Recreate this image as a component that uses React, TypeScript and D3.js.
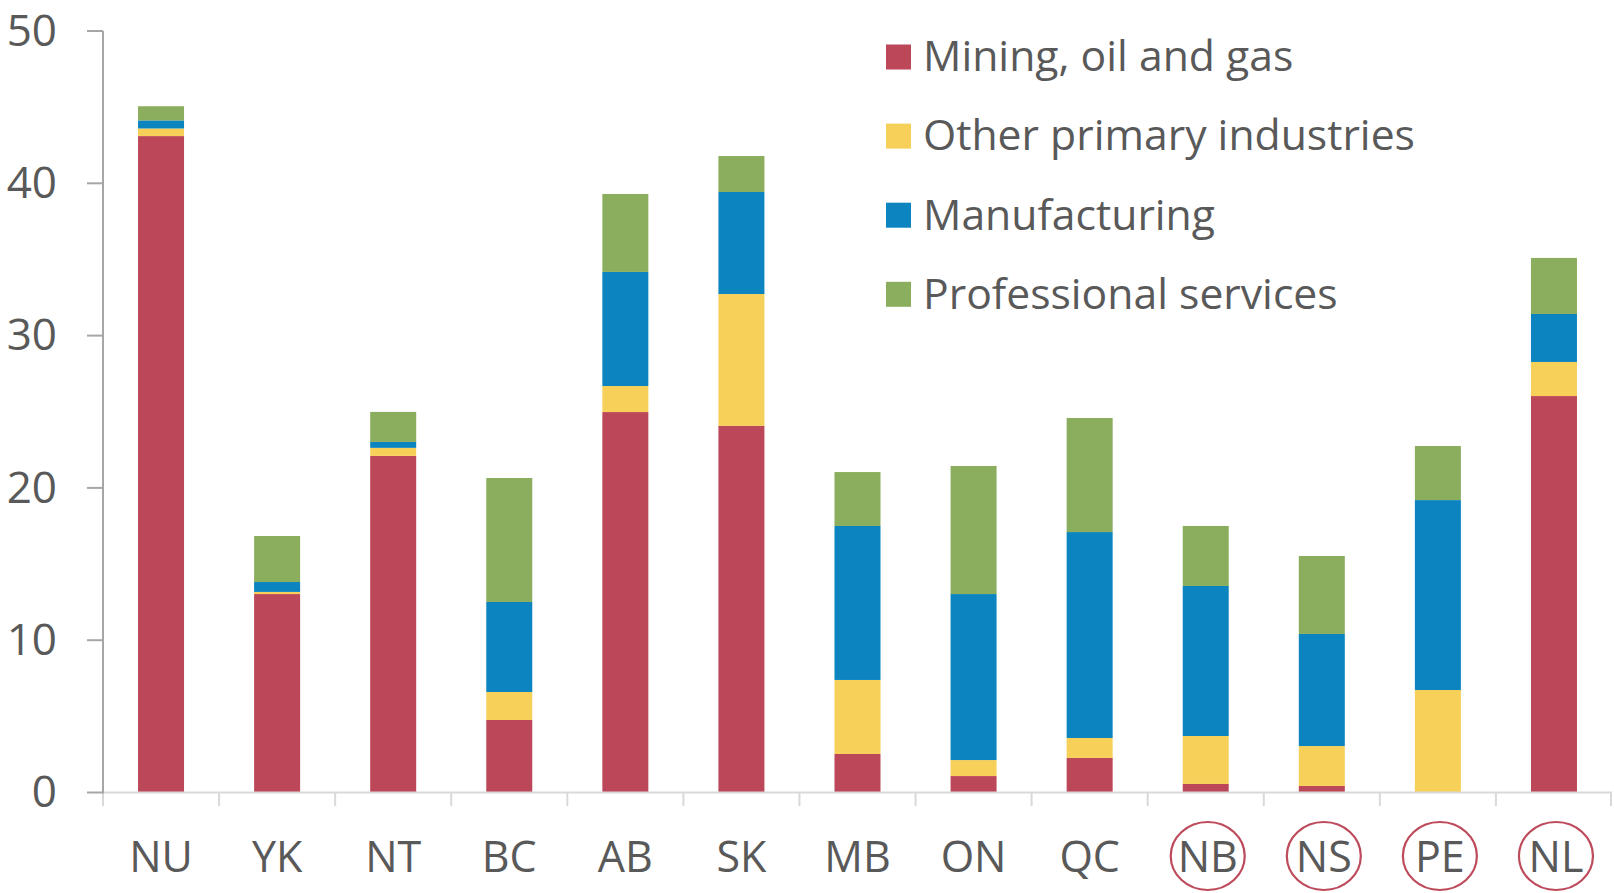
import React from "react";
import * as d3 from "d3";

const categories = ["NU", "YK", "NT", "BC", "AB", "SK", "MB", "ON", "QC", "NB", "NS", "PE", "NL"];
const circled = ["NB", "NS", "PE", "NL"];
const seriesNames = ["Mining, oil and gas", "Other primary industries", "Manufacturing", "Professional services"];
const mining = [43.1, 13.03, 22.1, 4.76, 24.98, 24.07, 2.53, 1.08, 2.27, 0.56, 0.43, 0, 26.03];
const otherPrimary = [0.5, 0.14, 0.53, 1.84, 1.71, 8.66, 4.86, 1.05, 1.31, 3.15, 2.62, 6.73, 2.24];
const manufacturing = [0.53, 0.65, 0.39, 5.91, 7.49, 6.7, 10.11, 10.9, 13.52, 9.85, 7.36, 12.47, 3.15];
const professional = [0.93, 3.02, 1.97, 8.14, 5.12, 2.36, 3.54, 8.41, 7.49, 3.94, 5.12, 3.55, 3.68];
const yTicks = [0, 10, 20, 30, 40, 50];
const colors = ["#bc4759", "#f7d05a", "#0b84c0", "#8bad5e"];

const W = 1614;
const H = 893;
const textColor = "#595959";
const font = "'Open Sans', 'Noto Sans', sans-serif";

export default function App() {
  const keys = ["mining", "other", "manu", "prof"];
  const rows = categories.map((c, i) => ({
    cat: c,
    mining: mining[i],
    other: otherPrimary[i],
    manu: manufacturing[i],
    prof: professional[i],
  }));
  const stack = d3.stack<any>().keys(keys)(rows);

  const x = d3.scaleBand().domain(categories).range([103, 1612]).paddingInner(0).paddingOuter(0);
  const y = d3.scaleLinear().domain([0, 50]).range([792.5, 31]);
  const bw = 46;

  return (
    <svg width={W} height={H} style={{ position: "absolute", left: 0, top: 0, background: "#fff" }} fontFamily={font}>
      {stack.map((s, si) => (
        <g key={si} fill={colors[si]}>
          {s.map((d, i) => {
            const cx = (x(categories[i]) as number) + x.bandwidth() / 2;
            const h = y(d[0]) - y(d[1]);
            if (h <= 0) return null;
            return <rect key={i} x={cx - bw / 2} y={y(d[1])} width={bw} height={h} />;
          })}
        </g>
      ))}
      <line x1={103} x2={1612} y1={y(0)} y2={y(0)} stroke="#d9d9d9" strokeWidth={2} />
      {categories.map((c, i) => (
        <line key={"t" + i} x1={x(c) as number} x2={x(c) as number} y1={y(0)} y2={806} stroke="#d9d9d9" strokeWidth={2} />
      ))}
      <line x1={1611} x2={1611} y1={y(0)} y2={806} stroke="#d9d9d9" strokeWidth={2} />
      <line x1={103} x2={103} y1={y(50)} y2={y(0) + 1} stroke="#a6a6a6" strokeWidth={2} />
      {yTicks.map((t) => (
        <g key={"y" + t}>
          <line x1={87} x2={103} y1={y(t)} y2={y(t)} stroke="#a6a6a6" strokeWidth={2} />
          <text x={57} y={y(t) - 1} dy="0.36em" textAnchor="end" fontSize={44} fill={textColor}>
            {t}
          </text>
        </g>
      ))}
      {categories.map((c) => {
        const isC = circled.includes(c);
        const cx = (x(c) as number) + x.bandwidth() / 2 + (isC ? 2 : 0);
        return (
          <g key={"c" + c}>
            {isC && (
              <ellipse cx={cx} cy={856} rx={37} ry={34} fill="none" stroke="#be4b5b" strokeWidth={2.2} />
            )}
            <text x={cx} y={857} dy="0.36em" textAnchor="middle" fontSize={43} fill={textColor}>
              {c}
            </text>
          </g>
        );
      })}
      {seriesNames.map((n, i) => {
        const cy = 57 + i * 79.1;
        return (
          <g key={"l" + i}>
            <rect x={886} y={cy - 12.5} width={25} height={25} fill={colors[i]} />
            <text x={923} y={cy - 1} dy="0.36em" fontSize={42.7} fill={textColor}>
              {n}
            </text>
          </g>
        );
      })}
    </svg>
  );
}
